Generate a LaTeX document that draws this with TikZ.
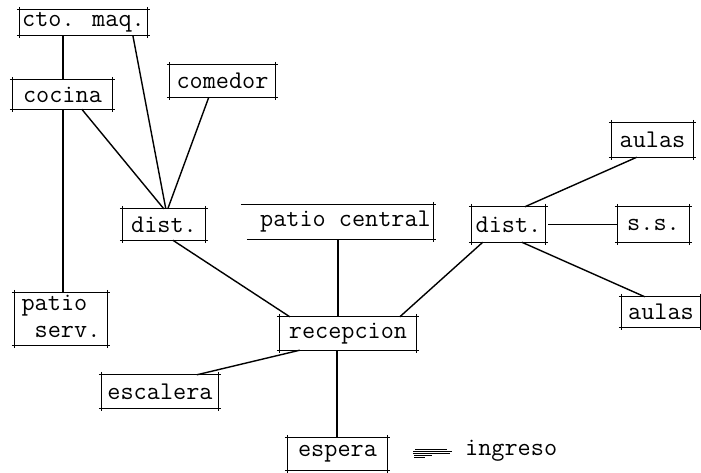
\documentclass[tikz,border=0pt]{standalone}
\usetikzlibrary{calc}
\begin{document}
\begin{tikzpicture}[x=1pt,y=-1pt,
  lbl/.style={font=\ttfamily\fontsize{25.5}{27}\selectfont, inner sep=0pt, anchor=center},
  conn/.style={line width=1.4pt, black},
  edge/.style={line width=1.1pt, black}]
\useasboundingbox (0,0) rectangle (701,472);
% boxes (text only; frames drawn below)
\node[lbl, minimum width=127, minimum height=25] (ctomaq) at (83.5,22.5) {cto. maq.};
\node[lbl, minimum width=99, minimum height=29] (cocina) at (62.5,94.5) {cocina};
\node[lbl, minimum width=105, minimum height=32] (comedor) at (222.5,81) {comedor};
\node[lbl, minimum width=92, minimum height=52, align=left] (patioserv) at (61,319) {patio\\\phantom{p}serv.};
\node[lbl, minimum width=82, minimum height=31] (distL) at (164,224.5) {dist.};
\node[lbl, minimum width=186, minimum height=34] (patiocentral) at (340,222) {\hspace*{11pt}patio central};
\node[lbl, minimum width=136, minimum height=33] (recepcion) at (348,333.5) {recepcion};
\node[lbl, minimum width=116, minimum height=33] (escalera) at (160,391.5) {escalera};
\node[lbl, minimum width=99, minimum height=32] (espera) at (337.5,454) {espera};
\node[lbl, minimum width=73, minimum height=35] (distR) at (508.5,224.5) {dist.};
\node[lbl, minimum width=71, minimum height=35] (ss) at (653.5,224.5) {s.s.};
\node[lbl, minimum width=81, minimum height=34] (aulasT) at (652.5,140) {aulas};
\node[lbl, minimum width=78, minimum height=30] (aulasB) at (661,312) {aulas};
\node[lbl, anchor=base west] (ingreso) at (465,455) {ingreso};
% frames with overshooting corners
\foreach \n in {ctomaq,cocina,comedor,patioserv,distL,recepcion,escalera,espera,distR,ss,aulasT,aulasB}{
  \draw[edge] ([xshift=-3]\n.north west) -- ([xshift=3]\n.north east);
  \draw[edge] ([xshift=-3]\n.south west) -- ([xshift=3]\n.south east);
  \draw[edge] ([yshift=3]\n.north west) -- ([yshift=-3]\n.south west);
  \draw[edge] ([yshift=3]\n.north east) -- ([yshift=-3]\n.south east);
}
% patio central: open on the left
\draw[edge] ([xshift=-6]patiocentral.north west) -- ([xshift=3]patiocentral.north east);
\draw[edge] (patiocentral.south west) -- ([xshift=3]patiocentral.south east);
\draw[edge] ([yshift=3]patiocentral.north east) -- ([yshift=-3]patiocentral.south east);
% connectors
\draw[conn] ([xshift=43]ctomaq.south west) -- ([xshift=50]cocina.north west);
\draw[conn] ([xshift=50]cocina.south west) -- ([xshift=48]patioserv.north west);
\draw[conn] ([xshift=113]ctomaq.south west) -- ([xshift=43]distL.north west);
\draw[conn] ([xshift=69]cocina.south west) -- ([xshift=41]distL.north west);
\draw[conn] ([xshift=39]comedor.south west) -- ([xshift=45]distL.north west);
\draw[conn] ([xshift=50]distL.south west) -- ([xshift=10]recepcion.north west);
\draw[conn] ([xshift=91]patiocentral.south west) -- ([xshift=58]recepcion.north west);
\draw[conn] ([xshift=95]escalera.north west) -- ([xshift=20]recepcion.south west);
\draw[conn] ([xshift=57]recepcion.south west) -- ([xshift=49]espera.north west);
\draw[conn] ([xshift=11]distR.south west) -- ([xshift=120]recepcion.north west);
\draw[conn] ([xshift=53]distR.north west) -- ([xshift=25]aulasT.south west);
\draw[conn] ([xshift=3]distR.east) -- (ss.west);
\draw[conn] ([xshift=50]distR.south west) -- ([xshift=23]aulasB.north west);
% ingreso hatched arrow
\foreach \dy/\a/\b in {6/-50/-18, 4/-52/-13, 2/-52/-15, 0/-51/-33, -2/-51/-40}{
  \draw[line width=0.6pt] ([xshift=\a,yshift=\dy]ingreso.base west) -- ([xshift=\b,yshift=\dy]ingreso.base west);
}
\end{tikzpicture}
\end{document}
